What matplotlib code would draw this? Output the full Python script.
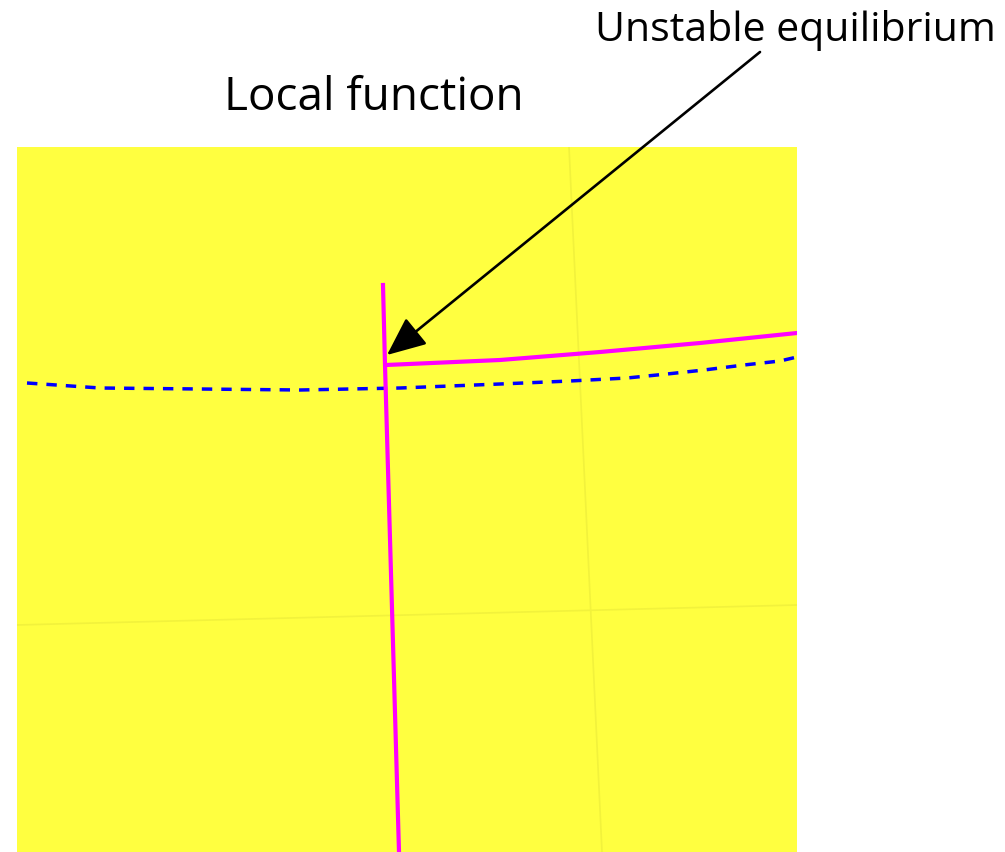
import matplotlib
matplotlib.use('Agg')
import matplotlib.pyplot as plt

# Curves in plot units (x right, y up)
local_x = [366, 368, 382]
local_y = [567, 487, 0]
branch_x = [369, 483, 583, 683, 780]
branch_y = [487, 492, 500, 509, 519]
level_x = [10, 83, 183, 283, 383, 483, 553, 610, 650, 687, 727, 763, 780]
level_y = [469, 464, 463, 462, 464, 468, 471, 474, 478, 482, 487, 491, 495]
# faint grid lines
grid_v = ([552, 585], [705, 0])
grid_h = ([0, 780], [227, 247])
eq_point = (370, 497)

W, H = 1005, 852
fig = plt.figure(figsize=(W / 100, H / 100), dpi=100)
ax = fig.add_axes([17 / W, 0, (797 - 17) / W, (852 - 147) / H])
ax.set_facecolor('#FFFF40')
ax.set_xlim(0, 780)
ax.set_ylim(0, 705)
for s in ax.spines.values():
    s.set_visible(False)
ax.set_xticks([])
ax.set_yticks([])

ax.plot(*grid_v, color='#F2F23C', lw=1.2, zorder=1)
ax.plot(*grid_h, color='#F2F23C', lw=1.2, zorder=1)

ax.plot(level_x, level_y, color='#0000FF', lw=2.5, linestyle=(0, (3.0, 2.6)), zorder=2)
ax.plot(local_x, local_y, color='#FF00FF', lw=3.0, zorder=3)
ax.plot(branch_x, branch_y, color='#FF00FF', lw=3.0, zorder=3)

ax.annotate('', xy=eq_point, xycoords='data',
            xytext=(760, H - 52), textcoords='figure pixels',
            arrowprops=dict(arrowstyle='-|>,head_length=0.8,head_width=0.35',
                            mutation_scale=30, lw=1.9, color='black',
                            shrinkA=0, shrinkB=0))

fig.text(373.5 / W, 1 - 110 / H, 'Local function', ha='center', va='baseline',
         fontsize=33, family='Open Sans')
fig.text(595 / W, 1 - 41 / H, 'Unstable equilibrium', ha='left', va='baseline',
         fontsize=29.5, family='Open Sans')

fig.savefig('out.png', dpi=100)
